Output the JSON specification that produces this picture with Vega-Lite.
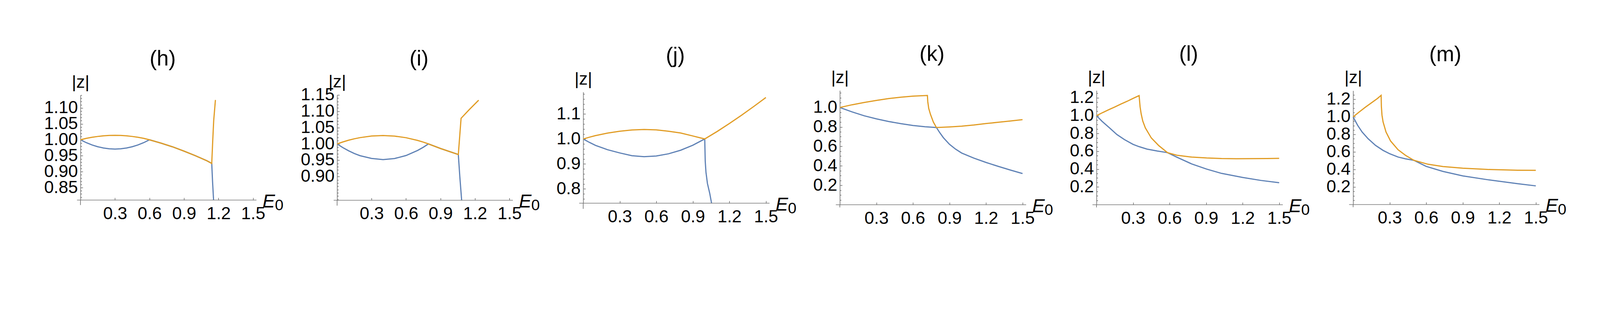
{
  "$schema": "https://vega.github.io/schema/vega-lite/v6.json",
  "autosize": {"type": "none"},
  "padding": {"left": 206, "top": 232, "right": 4594, "bottom": 568},
  "background": "white",
  "datasets": {
    "curves": [
      {"p":"h","s":"s1","x":0,"y":1.0},{"p":"h","s":"s1","x":0.05,"y":0.9911},{"p":"h","s":"s1","x":0.1,"y":0.9839},{"p":"h","s":"s1","x":0.15,"y":0.9783},{"p":"h","s":"s1","x":0.2,"y":0.9742},{"p":"h","s":"s1","x":0.25,"y":0.9718},{"p":"h","s":"s1","x":0.3,"y":0.971},{"p":"h","s":"s1","x":0.35,"y":0.9718},{"p":"h","s":"s1","x":0.4,"y":0.9742},{"p":"h","s":"s1","x":0.45,"y":0.9783},{"p":"h","s":"s1","x":0.5,"y":0.9839},{"p":"h","s":"s1","x":0.55,"y":0.9911},{"p":"h","s":"s1","x":0.6,"y":1.0},{"p":"h","s":"s1","x":0.7,"y":0.9895},{"p":"h","s":"s1","x":0.8,"y":0.978},{"p":"h","s":"s1","x":0.9,"y":0.9645},{"p":"h","s":"s1","x":1.0,"y":0.95},{"p":"h","s":"s1","x":1.1,"y":0.934},{"p":"h","s":"s1","x":1.141,"y":0.926},{"p":"h","s":"s1","x":1.148,"y":0.87},{"p":"h","s":"s1","x":1.157,"y":0.811},
      {"p":"h","s":"s2","x":0,"y":1.0},{"p":"h","s":"s2","x":0.05,"y":1.0045},{"p":"h","s":"s2","x":0.1,"y":1.0078},{"p":"h","s":"s2","x":0.15,"y":1.0105},{"p":"h","s":"s2","x":0.2,"y":1.0125},{"p":"h","s":"s2","x":0.25,"y":1.0137},{"p":"h","s":"s2","x":0.3,"y":1.014},{"p":"h","s":"s2","x":0.35,"y":1.0137},{"p":"h","s":"s2","x":0.4,"y":1.0125},{"p":"h","s":"s2","x":0.45,"y":1.0105},{"p":"h","s":"s2","x":0.5,"y":1.0078},{"p":"h","s":"s2","x":0.55,"y":1.0045},{"p":"h","s":"s2","x":0.6,"y":1.0},{"p":"h","s":"s2","x":0.7,"y":0.9895},{"p":"h","s":"s2","x":0.8,"y":0.978},{"p":"h","s":"s2","x":0.9,"y":0.9645},{"p":"h","s":"s2","x":1.0,"y":0.95},{"p":"h","s":"s2","x":1.1,"y":0.934},{"p":"h","s":"s2","x":1.141,"y":0.926},{"p":"h","s":"s2","x":1.15,"y":1.0},{"p":"h","s":"s2","x":1.158,"y":1.06},{"p":"h","s":"s2","x":1.173,"y":1.125},

      {"p":"i","s":"s1","x":0,"y":1.0},{"p":"i","s":"s1","x":0.05,"y":0.9887},{"p":"i","s":"s1","x":0.1,"y":0.9789},{"p":"i","s":"s1","x":0.15,"y":0.9706},{"p":"i","s":"s1","x":0.2,"y":0.9639},{"p":"i","s":"s1","x":0.3,"y":0.9555},{"p":"i","s":"s1","x":0.4,"y":0.952},{"p":"i","s":"s1","x":0.5,"y":0.9552},{"p":"i","s":"s1","x":0.6,"y":0.9644},{"p":"i","s":"s1","x":0.7,"y":0.9798},{"p":"i","s":"s1","x":0.75,"y":0.9897},{"p":"i","s":"s1","x":0.795,"y":1.0},{"p":"i","s":"s1","x":0.9,"y":0.986},{"p":"i","s":"s1","x":1.0,"y":0.974},{"p":"i","s":"s1","x":1.055,"y":0.9676},{"p":"i","s":"s1","x":1.068,"y":0.9},{"p":"i","s":"s1","x":1.084,"y":0.8273},
      {"p":"i","s":"s2","x":0,"y":1.0},{"p":"i","s":"s2","x":0.05,"y":1.006},{"p":"i","s":"s2","x":0.1,"y":1.0113},{"p":"i","s":"s2","x":0.15,"y":1.0157},{"p":"i","s":"s2","x":0.2,"y":1.0193},{"p":"i","s":"s2","x":0.3,"y":1.0241},{"p":"i","s":"s2","x":0.4,"y":1.0256},{"p":"i","s":"s2","x":0.5,"y":1.0239},{"p":"i","s":"s2","x":0.6,"y":1.019},{"p":"i","s":"s2","x":0.7,"y":1.0108},{"p":"i","s":"s2","x":0.75,"y":1.0055},{"p":"i","s":"s2","x":0.795,"y":1.0},{"p":"i","s":"s2","x":0.9,"y":0.986},{"p":"i","s":"s2","x":1.0,"y":0.974},{"p":"i","s":"s2","x":1.055,"y":0.9676},{"p":"i","s":"s2","x":1.079,"y":1.0785},{"p":"i","s":"s2","x":1.15,"y":1.105},{"p":"i","s":"s2","x":1.232,"y":1.134},

      {"p":"j","s":"s1","x":0,"y":1.0},{"p":"j","s":"s1","x":0.05,"y":0.9865},{"p":"j","s":"s1","x":0.1,"y":0.9744},{"p":"j","s":"s1","x":0.2,"y":0.957},{"p":"j","s":"s1","x":0.3,"y":0.944},{"p":"j","s":"s1","x":0.4,"y":0.933},{"p":"j","s":"s1","x":0.5,"y":0.929},{"p":"j","s":"s1","x":0.6,"y":0.9319},{"p":"j","s":"s1","x":0.7,"y":0.9405},{"p":"j","s":"s1","x":0.8,"y":0.9548},{"p":"j","s":"s1","x":0.9,"y":0.9749},{"p":"j","s":"s1","x":0.998,"y":1.0},{"p":"j","s":"s1","x":1.002,"y":0.911},{"p":"j","s":"s1","x":1.008,"y":0.867},{"p":"j","s":"s1","x":1.02,"y":0.822},{"p":"j","s":"s1","x":1.039,"y":0.782},{"p":"j","s":"s1","x":1.054,"y":0.7427},
      {"p":"j","s":"s2","x":0,"y":1.0},{"p":"j","s":"s2","x":0.05,"y":1.007},{"p":"j","s":"s2","x":0.1,"y":1.0135},{"p":"j","s":"s2","x":0.2,"y":1.0235},{"p":"j","s":"s2","x":0.3,"y":1.031},{"p":"j","s":"s2","x":0.4,"y":1.036},{"p":"j","s":"s2","x":0.5,"y":1.038},{"p":"j","s":"s2","x":0.6,"y":1.0365},{"p":"j","s":"s2","x":0.7,"y":1.031},{"p":"j","s":"s2","x":0.8,"y":1.024},{"p":"j","s":"s2","x":0.9,"y":1.012},{"p":"j","s":"s2","x":0.998,"y":1.0},{"p":"j","s":"s2","x":1.1,"y":1.03},{"p":"j","s":"s2","x":1.2,"y":1.062},{"p":"j","s":"s2","x":1.3,"y":1.095},{"p":"j","s":"s2","x":1.4,"y":1.13},{"p":"j","s":"s2","x":1.5,"y":1.166},

      {"p":"k","s":"s1","x":0,"y":1.0},{"p":"k","s":"s1","x":0.1,"y":0.955},{"p":"k","s":"s1","x":0.2,"y":0.915},{"p":"k","s":"s1","x":0.3,"y":0.883},{"p":"k","s":"s1","x":0.4,"y":0.856},{"p":"k","s":"s1","x":0.5,"y":0.834},{"p":"k","s":"s1","x":0.6,"y":0.815},{"p":"k","s":"s1","x":0.7,"y":0.802},{"p":"k","s":"s1","x":0.793,"y":0.794},{"p":"k","s":"s1","x":0.82,"y":0.742},{"p":"k","s":"s1","x":0.85,"y":0.69},{"p":"k","s":"s1","x":0.9,"y":0.622},{"p":"k","s":"s1","x":0.95,"y":0.572},{"p":"k","s":"s1","x":1.0,"y":0.532},{"p":"k","s":"s1","x":1.1,"y":0.48},{"p":"k","s":"s1","x":1.2,"y":0.435},{"p":"k","s":"s1","x":1.3,"y":0.395},{"p":"k","s":"s1","x":1.4,"y":0.357},{"p":"k","s":"s1","x":1.5,"y":0.321},
      {"p":"k","s":"s2","x":0,"y":1.0},{"p":"k","s":"s2","x":0.1,"y":1.028},{"p":"k","s":"s2","x":0.2,"y":1.052},{"p":"k","s":"s2","x":0.3,"y":1.073},{"p":"k","s":"s2","x":0.4,"y":1.092},{"p":"k","s":"s2","x":0.5,"y":1.106},{"p":"k","s":"s2","x":0.6,"y":1.117},{"p":"k","s":"s2","x":0.719,"y":1.124},{"p":"k","s":"s2","x":0.722,"y":1.06},{"p":"k","s":"s2","x":0.73,"y":0.99},{"p":"k","s":"s2","x":0.744,"y":0.93},{"p":"k","s":"s2","x":0.768,"y":0.85},{"p":"k","s":"s2","x":0.793,"y":0.794},{"p":"k","s":"s2","x":0.9,"y":0.8},{"p":"k","s":"s2","x":1.0,"y":0.808},{"p":"k","s":"s2","x":1.1,"y":0.82},{"p":"k","s":"s2","x":1.2,"y":0.835},{"p":"k","s":"s2","x":1.3,"y":0.848},{"p":"k","s":"s2","x":1.4,"y":0.861},{"p":"k","s":"s2","x":1.5,"y":0.875},

      {"p":"l","s":"s1","x":0,"y":1.0},{"p":"l","s":"s1","x":0.045,"y":0.9375},{"p":"l","s":"s1","x":0.107,"y":0.8625},{"p":"l","s":"s1","x":0.168,"y":0.7875},{"p":"l","s":"s1","x":0.23,"y":0.731},{"p":"l","s":"s1","x":0.3,"y":0.678},{"p":"l","s":"s1","x":0.35,"y":0.652},{"p":"l","s":"s1","x":0.414,"y":0.625},{"p":"l","s":"s1","x":0.5,"y":0.603},{"p":"l","s":"s1","x":0.583,"y":0.585},{"p":"l","s":"s1","x":0.659,"y":0.535},{"p":"l","s":"s1","x":0.782,"y":0.458},{"p":"l","s":"s1","x":0.905,"y":0.4},{"p":"l","s":"s1","x":1.027,"y":0.352},{"p":"l","s":"s1","x":1.2,"y":0.306},{"p":"l","s":"s1","x":1.35,"y":0.273},{"p":"l","s":"s1","x":1.5,"y":0.2475},
      {"p":"l","s":"s2","x":0,"y":1.0},{"p":"l","s":"s2","x":0.05,"y":1.034},{"p":"l","s":"s2","x":0.1,"y":1.066},{"p":"l","s":"s2","x":0.15,"y":1.097},{"p":"l","s":"s2","x":0.2,"y":1.13},{"p":"l","s":"s2","x":0.25,"y":1.16},{"p":"l","s":"s2","x":0.3,"y":1.193},{"p":"l","s":"s2","x":0.35,"y":1.225},{"p":"l","s":"s2","x":0.358,"y":1.1},{"p":"l","s":"s2","x":0.367,"y":1.019},{"p":"l","s":"s2","x":0.38,"y":0.94},{"p":"l","s":"s2","x":0.401,"y":0.863},{"p":"l","s":"s2","x":0.45,"y":0.75},{"p":"l","s":"s2","x":0.512,"y":0.663},{"p":"l","s":"s2","x":0.583,"y":0.585},{"p":"l","s":"s2","x":0.659,"y":0.556},{"p":"l","s":"s2","x":0.782,"y":0.535},{"p":"l","s":"s2","x":0.905,"y":0.525},{"p":"l","s":"s2","x":1.027,"y":0.519},{"p":"l","s":"s2","x":1.15,"y":0.517},{"p":"l","s":"s2","x":1.273,"y":0.518},{"p":"l","s":"s2","x":1.4,"y":0.519},{"p":"l","s":"s2","x":1.5,"y":0.521},

      {"p":"m","s":"s1","x":0,"y":1.0},{"p":"m","s":"s1","x":0.037,"y":0.904},{"p":"m","s":"s1","x":0.074,"y":0.827},{"p":"m","s":"s1","x":0.123,"y":0.751},{"p":"m","s":"s1","x":0.184,"y":0.675},{"p":"m","s":"s1","x":0.246,"y":0.618},{"p":"m","s":"s1","x":0.3,"y":0.58},{"p":"m","s":"s1","x":0.369,"y":0.542},{"p":"m","s":"s1","x":0.43,"y":0.522},{"p":"m","s":"s1","x":0.498,"y":0.505},{"p":"m","s":"s1","x":0.6,"y":0.435},{"p":"m","s":"s1","x":0.737,"y":0.378},{"p":"m","s":"s1","x":0.9,"y":0.327},{"p":"m","s":"s1","x":1.106,"y":0.283},{"p":"m","s":"s1","x":1.351,"y":0.238},{"p":"m","s":"s1","x":1.5,"y":0.213},
      {"p":"m","s":"s2","x":0,"y":1.0},{"p":"m","s":"s2","x":0.05,"y":1.056},{"p":"m","s":"s2","x":0.1,"y":1.11},{"p":"m","s":"s2","x":0.15,"y":1.16},{"p":"m","s":"s2","x":0.2,"y":1.21},{"p":"m","s":"s2","x":0.23,"y":1.246},{"p":"m","s":"s2","x":0.232,"y":1.12},{"p":"m","s":"s2","x":0.237,"y":1.02},{"p":"m","s":"s2","x":0.246,"y":0.942},{"p":"m","s":"s2","x":0.27,"y":0.828},{"p":"m","s":"s2","x":0.307,"y":0.726},{"p":"m","s":"s2","x":0.369,"y":0.625},{"p":"m","s":"s2","x":0.43,"y":0.562},{"p":"m","s":"s2","x":0.498,"y":0.505},{"p":"m","s":"s2","x":0.614,"y":0.46},{"p":"m","s":"s2","x":0.737,"y":0.434},{"p":"m","s":"s2","x":0.9,"y":0.415},{"p":"m","s":"s2","x":1.106,"y":0.4},{"p":"m","s":"s2","x":1.351,"y":0.392},{"p":"m","s":"s2","x":1.5,"y":0.39}
    ]
  },
  "hconcat": [
    {
      "width": 477, "height": 269,
      "title": {"text": "(h)", "dx": -28},
      "layer": [
        {
          "data": {"name": "curves"},
          "transform": [{"filter": "datum.p === 'h'"}],
          "mark": {"type": "line", "strokeWidth": 3},
          "encoding": {
            "x": {"field": "x", "type": "quantitative", "scale": {"domain": [0, 1.6196], "nice": false, "zero": false}, "axis": {"orient": "bottom", "values": [0.3, 0.6, 0.9, 1.2, 1.5], "format": ".1f", "title": null}},
            "y": {"field": "y", "type": "quantitative", "scale": {"domain": [0.811, 1.14], "nice": false, "zero": false}, "axis": {"orient": "left", "values": [0.85, 0.9, 0.95, 1.0, 1.05, 1.1], "format": ".2f", "title": "|z|"}},
            "color": {"field": "s", "type": "nominal", "scale": {"domain": ["s1", "s2"], "range": ["#5E81B5", "#E19C24"]}, "legend": null}
          }
        },
        {
          "data": {"values": [{}]},
          "mark": {"type": "rule", "color": "#777777", "strokeWidth": 1.7},
          "encoding": {
            "x": {"datum": -0.03, "type": "quantitative", "scale": {"domain": [0, 1.6196], "nice": false, "zero": false}},
            "x2": {"datum": 1.53},
            "y": {"datum": 0.811, "type": "quantitative", "scale": {"domain": [0.811, 1.14], "nice": false, "zero": false}, "axis": {"orient": "left", "values": [0.82, 0.83, 0.84, 0.86, 0.87, 0.88, 0.89, 0.91, 0.92, 0.93, 0.94, 0.96, 0.97, 0.98, 0.99, 1.01, 1.02, 1.03, 1.04, 1.06, 1.07, 1.08, 1.09, 1.11, 1.12, 1.13, 1.14], "labels": false, "domain": false, "tickSize": -3.4, "title": null}}
          }
        },
        {
          "data": {"values": [{}]},
          "mark": {"type": "rule", "color": "#777777", "strokeWidth": 1.7},
          "encoding": {
            "x": {"datum": 0, "type": "quantitative", "scale": {"domain": [0, 1.6196], "nice": false, "zero": false}},
            "y": {"datum": 0.811, "type": "quantitative", "scale": {"domain": [0.811, 1.14], "nice": false, "zero": false}, "axis": null},
            "y2": {"datum": 0.7953}
          }
        },
        {
          "data": {"values": [{}]},
          "mark": {"type": "text", "text": "E", "fontStyle": "italic", "fontSize": 48, "align": "left", "baseline": "alphabetic", "dx": 15.4, "dy": 18.9},
          "encoding": {
            "x": {"datum": 1.53, "type": "quantitative", "scale": {"domain": [0, 1.6196], "nice": false, "zero": false}},
            "y": {"datum": 0.811, "type": "quantitative", "scale": {"domain": [0.811, 1.14], "nice": false, "zero": false}, "axis": null}
          }
        },
        {
          "data": {"values": [{}]},
          "mark": {"type": "text", "text": "0", "fontSize": 39.5, "align": "left", "baseline": "alphabetic", "dx": 47.1, "dy": 25.7},
          "encoding": {
            "x": {"datum": 1.53, "type": "quantitative", "scale": {"domain": [0, 1.6196], "nice": false, "zero": false}},
            "y": {"datum": 0.811, "type": "quantitative", "scale": {"domain": [0.811, 1.14], "nice": false, "zero": false}, "axis": null}
          }
        }
      ],
      "resolve": {"axis": {"y": "independent"}}
    },
    {
      "width": 450, "height": 270,
      "title": {"text": "(i)", "dx": -15.4},
      "layer": [
        {
          "data": {"name": "curves"},
          "transform": [{"filter": "datum.p === 'i'"}],
          "mark": {"type": "line", "strokeWidth": 3},
          "encoding": {
            "x": {"field": "x", "type": "quantitative", "scale": {"domain": [0, 1.53], "nice": false, "zero": false}, "axis": {"orient": "bottom", "values": [0.3, 0.6, 0.9, 1.2, 1.5], "format": ".1f", "title": null}},
            "y": {"field": "y", "type": "quantitative", "scale": {"domain": [0.8273, 1.15], "nice": false, "zero": false}, "axis": {"orient": "left", "values": [0.9, 0.95, 1.0, 1.05, 1.1, 1.15], "format": ".2f", "title": "|z|"}},
            "color": {"field": "s", "type": "nominal", "scale": {"domain": ["s1", "s2"], "range": ["#5E81B5", "#E19C24"]}, "legend": null}
          }
        },
        {
          "data": {"values": [{}]},
          "mark": {"type": "rule", "color": "#777777", "strokeWidth": 1.7},
          "encoding": {
            "x": {"datum": -0.03, "type": "quantitative", "scale": {"domain": [0, 1.53], "nice": false, "zero": false}},
            "x2": {"datum": 1.53},
            "y": {"datum": 0.8273, "type": "quantitative", "scale": {"domain": [0.8273, 1.15], "nice": false, "zero": false}, "axis": {"orient": "left", "values": [0.83, 0.84, 0.85, 0.86, 0.87, 0.88, 0.89, 0.91, 0.92, 0.93, 0.94, 0.96, 0.97, 0.98, 0.99, 1.01, 1.02, 1.03, 1.04, 1.06, 1.07, 1.08, 1.09, 1.11, 1.12, 1.13, 1.14], "labels": false, "domain": false, "tickSize": -3.4, "title": null}}
          }
        },
        {
          "data": {"values": [{}]},
          "mark": {"type": "rule", "color": "#777777", "strokeWidth": 1.7},
          "encoding": {
            "x": {"datum": 0, "type": "quantitative", "scale": {"domain": [0, 1.53], "nice": false, "zero": false}},
            "y": {"datum": 0.8273, "type": "quantitative", "scale": {"domain": [0.8273, 1.15], "nice": false, "zero": false}, "axis": null},
            "y2": {"datum": 0.8109}
          }
        },
        {
          "data": {"values": [{}]},
          "mark": {"type": "text", "text": "E", "fontStyle": "italic", "fontSize": 48, "align": "left", "baseline": "alphabetic", "dx": 15.4, "dy": 18.9},
          "encoding": {
            "x": {"datum": 1.53, "type": "quantitative", "scale": {"domain": [0, 1.53], "nice": false, "zero": false}},
            "y": {"datum": 0.8273, "type": "quantitative", "scale": {"domain": [0.8273, 1.15], "nice": false, "zero": false}, "axis": null}
          }
        },
        {
          "data": {"values": [{}]},
          "mark": {"type": "text", "text": "0", "fontSize": 39.5, "align": "left", "baseline": "alphabetic", "dx": 47.1, "dy": 25.7},
          "encoding": {
            "x": {"datum": 1.53, "type": "quantitative", "scale": {"domain": [0, 1.53], "nice": false, "zero": false}},
            "y": {"datum": 0.8273, "type": "quantitative", "scale": {"domain": [0.8273, 1.15], "nice": false, "zero": false}, "axis": null}
          }
        }
      ],
      "resolve": {"axis": {"y": "independent"}}
    },
    {
      "width": 477, "height": 285,
      "title": {"text": "(j)", "dx": -2.6},
      "layer": [
        {
          "data": {"name": "curves"},
          "transform": [{"filter": "datum.p === 'j'"}],
          "mark": {"type": "line", "strokeWidth": 3},
          "encoding": {
            "x": {"field": "x", "type": "quantitative", "scale": {"domain": [0, 1.53], "nice": false, "zero": false}, "axis": {"orient": "bottom", "values": [0.3, 0.6, 0.9, 1.2, 1.5], "format": ".1f", "title": null}},
            "y": {"field": "y", "type": "quantitative", "scale": {"domain": [0.7427, 1.188], "nice": false, "zero": false}, "axis": {"orient": "left", "values": [0.8, 0.9, 1.0, 1.1], "format": ".1f", "title": "|z|"}},
            "color": {"field": "s", "type": "nominal", "scale": {"domain": ["s1", "s2"], "range": ["#5E81B5", "#E19C24"]}, "legend": null}
          }
        },
        {
          "data": {"values": [{}]},
          "mark": {"type": "rule", "color": "#777777", "strokeWidth": 1.7},
          "encoding": {
            "x": {"datum": -0.033, "type": "quantitative", "scale": {"domain": [0, 1.53], "nice": false, "zero": false}},
            "x2": {"datum": 1.53},
            "y": {"datum": 0.7427, "type": "quantitative", "scale": {"domain": [0.7427, 1.188], "nice": false, "zero": false}, "axis": {"orient": "left", "values": [0.76, 0.78, 0.82, 0.84, 0.86, 0.88, 0.92, 0.94, 0.96, 0.98, 1.02, 1.04, 1.06, 1.08, 1.12, 1.14, 1.16, 1.18], "labels": false, "domain": false, "tickSize": -3.4, "title": null}}
          }
        },
        {
          "data": {"values": [{}]},
          "mark": {"type": "rule", "color": "#777777", "strokeWidth": 1.7},
          "encoding": {
            "x": {"datum": 0, "type": "quantitative", "scale": {"domain": [0, 1.53], "nice": false, "zero": false}},
            "y": {"datum": 0.7427, "type": "quantitative", "scale": {"domain": [0.7427, 1.188], "nice": false, "zero": false}, "axis": null},
            "y2": {"datum": 0.72}
          }
        },
        {
          "data": {"values": [{}]},
          "mark": {"type": "text", "text": "E", "fontStyle": "italic", "fontSize": 48, "align": "left", "baseline": "alphabetic", "dx": 15.4, "dy": 18.9},
          "encoding": {
            "x": {"datum": 1.53, "type": "quantitative", "scale": {"domain": [0, 1.53], "nice": false, "zero": false}},
            "y": {"datum": 0.7427, "type": "quantitative", "scale": {"domain": [0.7427, 1.188], "nice": false, "zero": false}, "axis": null}
          }
        },
        {
          "data": {"values": [{}]},
          "mark": {"type": "text", "text": "0", "fontSize": 39.5, "align": "left", "baseline": "alphabetic", "dx": 47.1, "dy": 25.7},
          "encoding": {
            "x": {"datum": 1.53, "type": "quantitative", "scale": {"domain": [0, 1.53], "nice": false, "zero": false}},
            "y": {"datum": 0.7427, "type": "quantitative", "scale": {"domain": [0.7427, 1.188], "nice": false, "zero": false}, "axis": null}
          }
        }
      ],
      "resolve": {"axis": {"y": "independent"}}
    },
    {
      "width": 477, "height": 293,
      "title": {"text": "(k)", "dx": -2.6},
      "layer": [
        {
          "data": {"name": "curves"},
          "transform": [{"filter": "datum.p === 'k'"}],
          "mark": {"type": "line", "strokeWidth": 3},
          "encoding": {
            "x": {"field": "x", "type": "quantitative", "scale": {"domain": [0, 1.53], "nice": false, "zero": false}, "axis": {"orient": "bottom", "values": [0.3, 0.6, 0.9, 1.2, 1.5], "format": ".1f", "title": null}},
            "y": {"field": "y", "type": "quantitative", "scale": {"domain": [0, 1.175], "nice": false, "zero": false}, "axis": {"orient": "left", "values": [0.2, 0.4, 0.6, 0.8, 1.0], "format": ".1f", "title": "|z|"}},
            "color": {"field": "s", "type": "nominal", "scale": {"domain": ["s1", "s2"], "range": ["#5E81B5", "#E19C24"]}, "legend": null}
          }
        },
        {
          "data": {"values": [{}]},
          "mark": {"type": "rule", "color": "#777777", "strokeWidth": 1.7},
          "encoding": {
            "x": {"datum": -0.033, "type": "quantitative", "scale": {"domain": [0, 1.53], "nice": false, "zero": false}},
            "x2": {"datum": 1.53},
            "y": {"datum": 0, "type": "quantitative", "scale": {"domain": [0, 1.175], "nice": false, "zero": false}, "axis": {"orient": "left", "values": [0.05, 0.1, 0.15, 0.25, 0.3, 0.35, 0.45, 0.5, 0.55, 0.65, 0.7, 0.75, 0.85, 0.9, 0.95, 1.05, 1.1, 1.15], "labels": false, "domain": false, "tickSize": -3.4, "title": null}}
          }
        },
        {
          "data": {"values": [{}]},
          "mark": {"type": "rule", "color": "#777777", "strokeWidth": 1.7},
          "encoding": {
            "x": {"datum": 0, "type": "quantitative", "scale": {"domain": [0, 1.53], "nice": false, "zero": false}},
            "y": {"datum": 0, "type": "quantitative", "scale": {"domain": [0, 1.175], "nice": false, "zero": false}, "axis": null},
            "y2": {"datum": -0.0275}
          }
        },
        {
          "data": {"values": [{}]},
          "mark": {"type": "text", "text": "E", "fontStyle": "italic", "fontSize": 48, "align": "left", "baseline": "alphabetic", "dx": 15.4, "dy": 18.9},
          "encoding": {
            "x": {"datum": 1.53, "type": "quantitative", "scale": {"domain": [0, 1.53], "nice": false, "zero": false}},
            "y": {"datum": 0, "type": "quantitative", "scale": {"domain": [0, 1.175], "nice": false, "zero": false}, "axis": null}
          }
        },
        {
          "data": {"values": [{}]},
          "mark": {"type": "text", "text": "0", "fontSize": 39.5, "align": "left", "baseline": "alphabetic", "dx": 47.1, "dy": 25.7},
          "encoding": {
            "x": {"datum": 1.53, "type": "quantitative", "scale": {"domain": [0, 1.53], "nice": false, "zero": false}},
            "y": {"datum": 0, "type": "quantitative", "scale": {"domain": [0, 1.175], "nice": false, "zero": false}, "axis": null}
          }
        }
      ],
      "resolve": {"axis": {"y": "independent"}}
    },
    {
      "width": 477, "height": 293,
      "title": {"text": "(l)", "dx": -2.6},
      "layer": [
        {
          "data": {"name": "curves"},
          "transform": [{"filter": "datum.p === 'l'"}],
          "mark": {"type": "line", "strokeWidth": 3},
          "encoding": {
            "x": {"field": "x", "type": "quantitative", "scale": {"domain": [0, 1.53], "nice": false, "zero": false}, "axis": {"orient": "bottom", "values": [0.3, 0.6, 0.9, 1.2, 1.5], "format": ".1f", "title": null}},
            "y": {"field": "y", "type": "quantitative", "scale": {"domain": [0, 1.2825], "nice": false, "zero": false}, "axis": {"orient": "left", "values": [0.2, 0.4, 0.6, 0.8, 1.0, 1.2], "format": ".1f", "title": "|z|"}},
            "color": {"field": "s", "type": "nominal", "scale": {"domain": ["s1", "s2"], "range": ["#5E81B5", "#E19C24"]}, "legend": null}
          }
        },
        {
          "data": {"values": [{}]},
          "mark": {"type": "rule", "color": "#777777", "strokeWidth": 1.7},
          "encoding": {
            "x": {"datum": -0.033, "type": "quantitative", "scale": {"domain": [0, 1.53], "nice": false, "zero": false}},
            "x2": {"datum": 1.53},
            "y": {"datum": 0, "type": "quantitative", "scale": {"domain": [0, 1.2825], "nice": false, "zero": false}, "axis": {"orient": "left", "values": [0.05, 0.1, 0.15, 0.25, 0.3, 0.35, 0.45, 0.5, 0.55, 0.65, 0.7, 0.75, 0.85, 0.9, 0.95, 1.05, 1.1, 1.15, 1.25], "labels": false, "domain": false, "tickSize": -3.4, "title": null}}
          }
        },
        {
          "data": {"values": [{}]},
          "mark": {"type": "rule", "color": "#777777", "strokeWidth": 1.7},
          "encoding": {
            "x": {"datum": 0, "type": "quantitative", "scale": {"domain": [0, 1.53], "nice": false, "zero": false}},
            "y": {"datum": 0, "type": "quantitative", "scale": {"domain": [0, 1.2825], "nice": false, "zero": false}, "axis": null},
            "y2": {"datum": -0.03}
          }
        },
        {
          "data": {"values": [{}]},
          "mark": {"type": "text", "text": "E", "fontStyle": "italic", "fontSize": 48, "align": "left", "baseline": "alphabetic", "dx": 15.4, "dy": 18.9},
          "encoding": {
            "x": {"datum": 1.53, "type": "quantitative", "scale": {"domain": [0, 1.53], "nice": false, "zero": false}},
            "y": {"datum": 0, "type": "quantitative", "scale": {"domain": [0, 1.2825], "nice": false, "zero": false}, "axis": null}
          }
        },
        {
          "data": {"values": [{}]},
          "mark": {"type": "text", "text": "0", "fontSize": 39.5, "align": "left", "baseline": "alphabetic", "dx": 47.1, "dy": 25.7},
          "encoding": {
            "x": {"datum": 1.53, "type": "quantitative", "scale": {"domain": [0, 1.53], "nice": false, "zero": false}},
            "y": {"datum": 0, "type": "quantitative", "scale": {"domain": [0, 1.2825], "nice": false, "zero": false}, "axis": null}
          }
        }
      ],
      "resolve": {"axis": {"y": "independent"}}
    },
    {
      "width": 477, "height": 292,
      "title": {"text": "(m)", "dx": -2.6},
      "layer": [
        {
          "data": {"name": "curves"},
          "transform": [{"filter": "datum.p === 'm'"}],
          "mark": {"type": "line", "strokeWidth": 3},
          "encoding": {
            "x": {"field": "x", "type": "quantitative", "scale": {"domain": [0, 1.53], "nice": false, "zero": false}, "axis": {"orient": "bottom", "values": [0.3, 0.6, 0.9, 1.2, 1.5], "format": ".1f", "title": null}},
            "y": {"field": "y", "type": "quantitative", "scale": {"domain": [0, 1.299], "nice": false, "zero": false}, "axis": {"orient": "left", "values": [0.2, 0.4, 0.6, 0.8, 1.0, 1.2], "format": ".1f", "title": "|z|"}},
            "color": {"field": "s", "type": "nominal", "scale": {"domain": ["s1", "s2"], "range": ["#5E81B5", "#E19C24"]}, "legend": null}
          }
        },
        {
          "data": {"values": [{}]},
          "mark": {"type": "rule", "color": "#777777", "strokeWidth": 1.7},
          "encoding": {
            "x": {"datum": -0.033, "type": "quantitative", "scale": {"domain": [0, 1.53], "nice": false, "zero": false}},
            "x2": {"datum": 1.53},
            "y": {"datum": 0, "type": "quantitative", "scale": {"domain": [0, 1.299], "nice": false, "zero": false}, "axis": {"orient": "left", "values": [0.05, 0.1, 0.15, 0.25, 0.3, 0.35, 0.45, 0.5, 0.55, 0.65, 0.7, 0.75, 0.85, 0.9, 0.95, 1.05, 1.1, 1.15, 1.25], "labels": false, "domain": false, "tickSize": -3.4, "title": null}}
          }
        },
        {
          "data": {"values": [{}]},
          "mark": {"type": "rule", "color": "#777777", "strokeWidth": 1.7},
          "encoding": {
            "x": {"datum": 0, "type": "quantitative", "scale": {"domain": [0, 1.53], "nice": false, "zero": false}},
            "y": {"datum": 0, "type": "quantitative", "scale": {"domain": [0, 1.299], "nice": false, "zero": false}, "axis": null},
            "y2": {"datum": -0.0305}
          }
        },
        {
          "data": {"values": [{}]},
          "mark": {"type": "text", "text": "E", "fontStyle": "italic", "fontSize": 48, "align": "left", "baseline": "alphabetic", "dx": 15.4, "dy": 18.9},
          "encoding": {
            "x": {"datum": 1.53, "type": "quantitative", "scale": {"domain": [0, 1.53], "nice": false, "zero": false}},
            "y": {"datum": 0, "type": "quantitative", "scale": {"domain": [0, 1.299], "nice": false, "zero": false}, "axis": null}
          }
        },
        {
          "data": {"values": [{}]},
          "mark": {"type": "text", "text": "0", "fontSize": 39.5, "align": "left", "baseline": "alphabetic", "dx": 47.1, "dy": 25.7},
          "encoding": {
            "x": {"datum": 1.53, "type": "quantitative", "scale": {"domain": [0, 1.53], "nice": false, "zero": false}},
            "y": {"datum": 0, "type": "quantitative", "scale": {"domain": [0, 1.299], "nice": false, "zero": false}, "axis": null}
          }
        }
      ],
      "resolve": {"axis": {"y": "independent"}}
    }
  ],
  "spacing": 180,
  "bounds": "flush",
  "center": true,
  "config": {
    "view": {"stroke": null},
    "font": "Liberation Sans",
    "text": {"font": "Liberation Sans", "color": "#000000"},
    "title": {"font": "Liberation Sans", "fontSize": 55, "fontWeight": "normal", "color": "#000000", "anchor": "middle", "frame": "group", "baseline": "bottom", "offset": 7.7},
    "axis": {
      "grid": false,
      "labelFont": "Liberation Sans", "labelFontSize": 44.5, "labelColor": "#000000", "labelOverlap": false, "labelFlush": false,
      "titleFont": "Liberation Sans", "titleFontSize": 44.5, "titleFontWeight": "normal", "titleColor": "#000000",
      "domainColor": "#777777", "domainWidth": 1.7,
      "tickColor": "#555555", "tickWidth": 1.3, "tickSize": -6
    },
    "axisX": {"domain": false, "labelPadding": 19},
    "axisY": {"labelPadding": 13, "titleAngle": 0, "titleAlign": "center", "titleBaseline": "bottom", "titleX": 0, "titleY": -11}
  }
}
